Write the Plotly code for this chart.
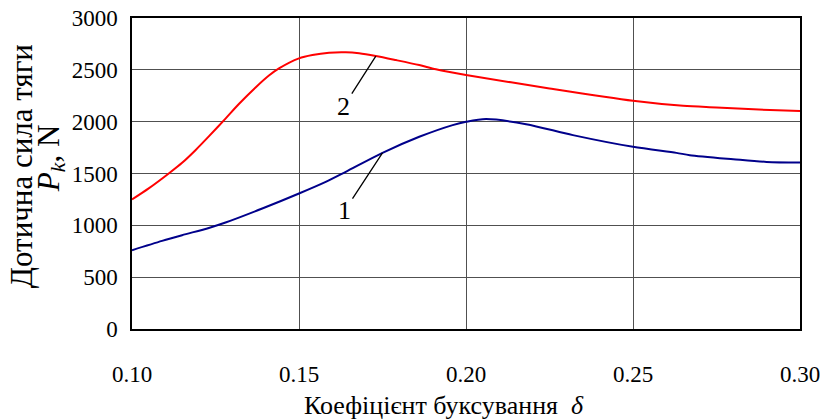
import plotly.graph_objects as go

# Slip coefficient (delta) and tangential traction force P_k, N
delta_2 = [0.100, 0.105, 0.111, 0.115, 0.119, 0.123, 0.128, 0.132, 0.137, 0.141,
           0.144, 0.150, 0.154, 0.159, 0.164, 0.168, 0.173, 0.179, 0.186, 0.191,
           0.200, 0.225, 0.250, 0.265, 0.275, 0.291, 0.300]
force_2 = [1249, 1356, 1500, 1603, 1725, 1858, 2030, 2170, 2330, 2445,
           2514, 2611, 2643, 2665, 2669, 2659, 2633, 2594, 2546, 2505,
           2450, 2321, 2202, 2153, 2137, 2112, 2102]

delta_1 = [0.100, 0.109, 0.115, 0.123, 0.128, 0.139, 0.150, 0.158, 0.164, 0.175,
           0.186, 0.196, 0.200, 0.206, 0.218, 0.232, 0.250, 0.263, 0.267, 0.280,
           0.290, 0.300]
force_1 = [760, 850, 905, 975, 1027, 1162, 1307, 1419, 1516, 1699,
           1854, 1967, 1999, 2025, 1976, 1870, 1757, 1699, 1677, 1638,
           1612, 1606]

x_ticks = [0.10, 0.15, 0.20, 0.25, 0.30]
y_ticks = [0, 500, 1000, 1500, 2000, 2500, 3000]

# index of the point each curve label points to
label_idx_2 = 16
label_idx_1 = 9

FONT = "Liberation Serif"

fig = go.Figure()
fig.add_trace(go.Scatter(x=delta_2, y=force_2, mode="lines",
                         line=dict(color="#ff0000", width=2, shape="spline", smoothing=0.8),
                         name="2"))
fig.add_trace(go.Scatter(x=delta_1, y=force_1, mode="lines",
                         line=dict(color="#00008b", width=2, shape="spline", smoothing=0.8),
                         name="1"))

fig.update_layout(
    width=822, height=420,
    margin=dict(l=132, r=22, t=18, b=91),
    paper_bgcolor="white", plot_bgcolor="white",
    showlegend=False,
    font=dict(family=FONT, color="black"),
)

fig.update_xaxes(
    range=[0.10, 0.30], tickvals=x_ticks,
    ticktext=[f"{v:.2f}" for v in x_ticks],
    showgrid=True, gridcolor="#505050", gridwidth=1,
    showline=True, mirror=True, linecolor="black", linewidth=1.5,
    ticks="", ticklabelstandoff=24, automargin=False,
    tickfont=dict(family=FONT, size=23, color="black"),
    zeroline=False,
)
fig.update_yaxes(
    range=[0, 3000], tickvals=y_ticks,
    showgrid=True, gridcolor="#505050", gridwidth=1,
    showline=True, mirror=True, linecolor="black", linewidth=1.5,
    ticks="", ticklabelstandoff=8, automargin=False,
    tickfont=dict(family=FONT, size=23, color="black"),
    zeroline=False,
)

# curve labels with leader lines
for xs, ys, idx, txt, ax, ay in [
    (delta_2, force_2, label_idx_2, "2", -32, 50),
    (delta_1, force_1, label_idx_1, "1", -38, 58),
]:
    fig.add_annotation(
        x=xs[idx], y=ys[idx], xref="x", yref="y",
        text=txt, showarrow=True, arrowhead=0, arrowwidth=1.3,
        arrowcolor="black", ax=ax, ay=ay, standoff=0,
        font=dict(family=FONT, size=26, color="black"),
    )

# axis titles
fig.add_annotation(
    text="Коефіцієнт буксування\u00a0 <i>δ</i>",
    xref="paper", yref="paper", x=(444 - 132) / 668, y=(328.7 - 405) / 310.7,
    xanchor="center", yanchor="middle", showarrow=False,
    font=dict(family=FONT, size=26, color="black"),
)
fig.add_annotation(
    text="Дотична сила тяги",
    xref="paper", yref="paper", x=(21 - 132) / 668, y=(328.7 - 166) / 310.7,
    xanchor="center", yanchor="middle", textangle=-90, showarrow=False,
    font=dict(family=FONT, size=31, color="black"),
)
fig.add_annotation(
    text="<i>P</i><sub><i>k</i></sub>, N",
    xref="paper", yref="paper", x=(51 - 132) / 668, y=(328.7 - 159) / 310.7,
    xanchor="center", yanchor="middle", textangle=-90, showarrow=False,
    font=dict(family=FONT, size=31, color="black"),
)

fig.write_html("out.html")
